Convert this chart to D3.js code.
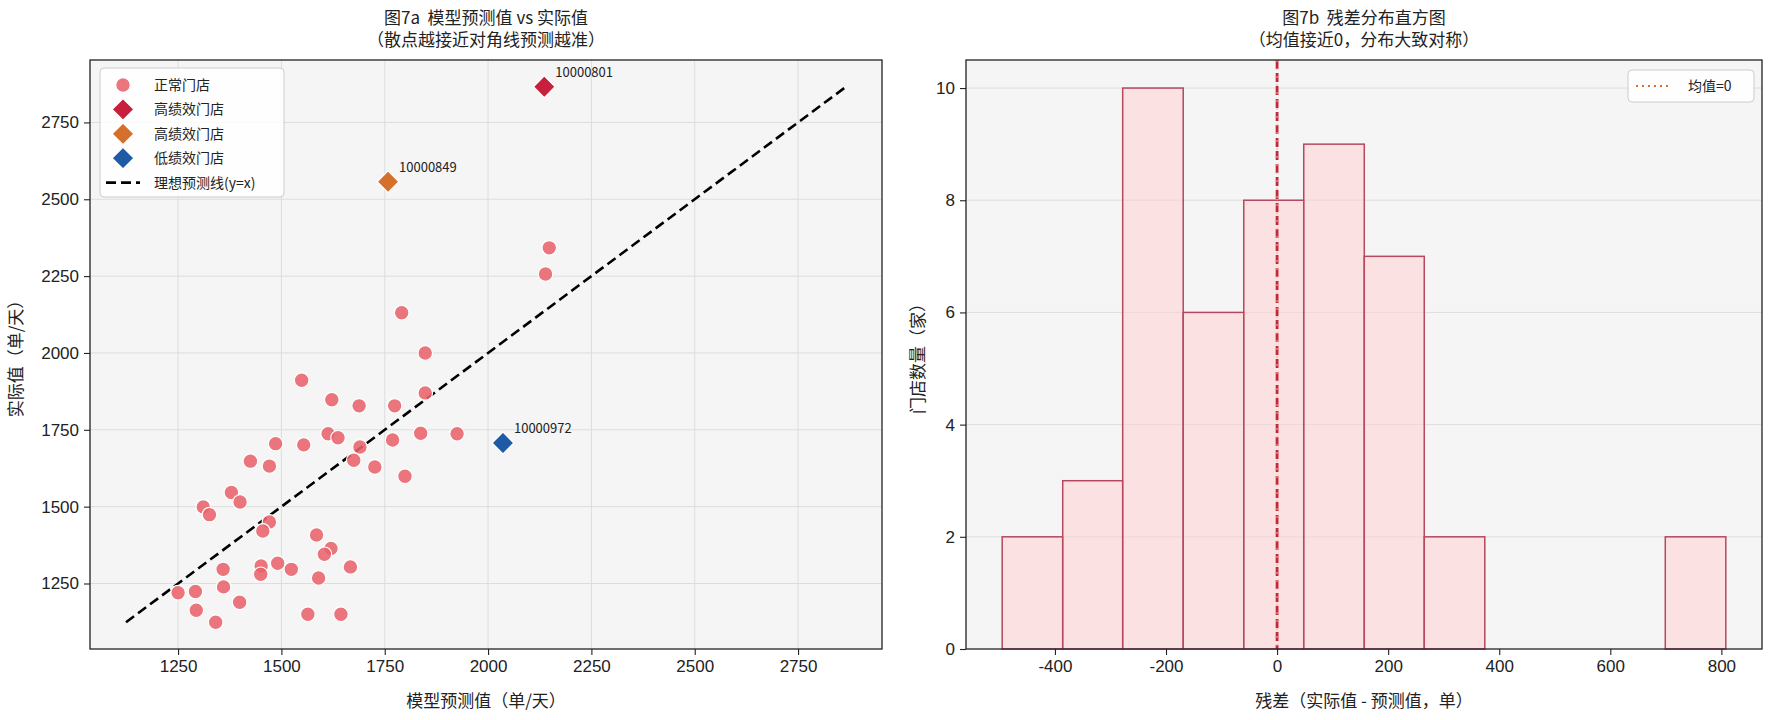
<!DOCTYPE html>
<html>
<head>
<meta charset="utf-8">
<script src="https://cdn.jsdelivr.net/npm/d3@7"></script>
<style>
  body { margin: 0; background: #fff; }
  svg { display: block; font-family: "Noto Sans CJK SC", "Noto Sans", sans-serif; }
  text { white-space: pre; }
</style>
</head>
<body>
<svg id="chart" width="1768" height="720"></svg>
<script>
// --- data ---
// fig 7a: normal stores (predicted, actual)
const normalPred = [1791, 1848, 1549, 1622, 1688, 1774, 1848, 1613, 1637, 1837, 1925, 1769,
  1690, 1675, 1726, 1799, 1486, 1554, 1425, 1471, 1379, 1400, 1311, 1326, 1471, 1455, 1585,
  1620, 1604, 1667, 1491, 1524, 1451, 1450, 1359, 1590, 1360, 1292, 1250, 1399, 1294, 1341,
  1564, 1644, 2148, 2139];
const normalActual = [2131, 2000, 1911, 1848, 1828, 1828, 1870, 1737, 1724, 1739, 1737, 1717,
  1694, 1651, 1629, 1599, 1705, 1701, 1648, 1632, 1546, 1515, 1499, 1474, 1450, 1421, 1408,
  1364, 1345, 1304, 1316, 1296, 1307, 1280, 1296, 1268, 1239, 1224, 1220, 1189, 1163, 1124,
  1150, 1150, 2342, 2257];

// highlighted stores
const specialIds = ['10000801', '10000849', '10000972'];
const specialNames = ['高绩效门店', '高绩效门店', '低绩效门店'];
const specialPred = [2136, 1758, 2036];
const specialActual = [2866, 2557, 1707];

const scatterTicks = [1250, 1500, 1750, 2000, 2250, 2500, 2750];

// fig 7b: residual histogram
const binEdges = [-495, -386, -278, -169, -60, 48, 157, 265, 374, 482, 591, 699, 808];
const binCounts = [2, 3, 10, 6, 8, 9, 7, 2, 0, 0, 0, 2];
const residualMean = 0;
const histXTicks = [-400, -200, 0, 200, 400, 600, 800];
const histYTicks = [0, 2, 4, 6, 8, 10];

// --- styles ---
const specialColors = ['#c8203c', '#d4702c', '#1f5aa6'];
const normalColor = '#e8636b';
const bg = '#f5f5f5';
const gridColor = '#dddddd';
const ink = '#222';

const svg = d3.select('#chart');

const left = { x0: 90, x1: 882, y0: 60, y1: 649 };
const right = { x0: 966, x1: 1762, y0: 60, y1: 649 };

function frame(box) {
  svg.append('rect')
    .attr('x', box.x0).attr('y', box.y0)
    .attr('width', box.x1 - box.x0).attr('height', box.y1 - box.y0)
    .attr('fill', 'none').attr('stroke', ink).attr('stroke-width', 1.3);
}

function background(box) {
  svg.append('rect')
    .attr('x', box.x0).attr('y', box.y0)
    .attr('width', box.x1 - box.x0).attr('height', box.y1 - box.y0)
    .attr('fill', bg);
}

function styleAxis(g) {
  g.select('.domain').remove();
  g.selectAll('.tick line').attr('stroke', ink).attr('stroke-width', 1.1);
  g.selectAll('.tick text').attr('fill', ink).attr('font-size', 17);
}

function title(box, l1, l2) {
  const cx = (box.x0 + box.x1) / 2;
  svg.append('text').attr('x', cx).attr('y', 24).attr('text-anchor', 'middle')
    .attr('font-size', 17).attr('fill', ink).text(l1);
  svg.append('text').attr('x', cx).attr('y', 46).attr('text-anchor', 'middle')
    .attr('font-size', 17).attr('fill', ink).text(l2);
}

// ================= fig 7a =================
const allVals = normalPred.concat(normalActual, specialPred, specialActual);
const [vMin, vMax] = d3.extent(allVals);
const pad = (vMax - vMin) * 0.05;

const x = d3.scaleLinear().domain([vMin - pad, vMax + pad]).range([left.x0, left.x1]);
const y = d3.scaleLinear().domain([vMin - pad, vMax + pad]).range([left.y1, left.y0]);

background(left);

// grid
svg.append('g').selectAll('line').data(scatterTicks).join('line')
  .attr('x1', d => x(d)).attr('x2', d => x(d))
  .attr('y1', left.y0).attr('y2', left.y1)
  .attr('stroke', gridColor).attr('stroke-width', 1);
svg.append('g').selectAll('line').data(scatterTicks).join('line')
  .attr('x1', left.x0).attr('x2', left.x1)
  .attr('y1', d => y(d)).attr('y2', d => y(d))
  .attr('stroke', gridColor).attr('stroke-width', 1);

// ideal line y = x
svg.append('line')
  .attr('x1', x(vMin)).attr('y1', y(vMin))
  .attr('x2', x(vMax)).attr('y2', y(vMax))
  .attr('stroke', '#000').attr('stroke-width', 2.6)
  .attr('stroke-dasharray', '10,5');

// normal stores
svg.append('g').selectAll('circle').data(normalPred).join('circle')
  .attr('cx', d => x(d))
  .attr('cy', (d, i) => y(normalActual[i]))
  .attr('r', 7.3)
  .attr('fill', normalColor).attr('fill-opacity', 0.88)
  .attr('stroke', '#fff').attr('stroke-width', 1.2);

// highlighted stores
const diamond = d3.symbol().type(d3.symbolDiamond2).size(300);
const sp = svg.append('g').selectAll('g').data(specialIds).join('g')
  .attr('transform', (d, i) => `translate(${x(specialPred[i])},${y(specialActual[i])})`);
sp.append('path').attr('d', diamond)
  .attr('fill', (d, i) => specialColors[i])
  .attr('stroke', '#fff').attr('stroke-width', 1.2);
sp.append('text').attr('x', 11).attr('y', -10)
  .attr('font-size', 13).attr('fill', ink).text(d => d);

frame(left);

const xAxisL = svg.append('g').attr('transform', `translate(0,${left.y1})`)
  .call(d3.axisBottom(x).tickValues(scatterTicks).tickSize(6).tickPadding(5).tickFormat(d3.format('d')));
styleAxis(xAxisL);
const yAxisL = svg.append('g').attr('transform', `translate(${left.x0},0)`)
  .call(d3.axisLeft(y).tickValues(scatterTicks).tickSize(6).tickPadding(5).tickFormat(d3.format('d')));
styleAxis(yAxisL);

svg.append('text').attr('x', (left.x0 + left.x1) / 2).attr('y', 707)
  .attr('text-anchor', 'middle').attr('font-size', 17).attr('fill', ink)
  .text('模型预测值（单/天）');
svg.append('text')
  .attr('transform', `translate(22,${(left.y0 + left.y1) / 2}) rotate(-90)`)
  .attr('text-anchor', 'middle').attr('font-size', 17).attr('fill', ink)
  .text('实际值（单/天）');

title(left, '图7a  模型预测值 vs 实际值', '（散点越接近对角线预测越准）');

// legend 7a
const lg = svg.append('g').attr('transform', `translate(${left.x0 + 10},${left.y0 + 8})`);
lg.append('rect').attr('width', 184).attr('height', 129).attr('rx', 4)
  .attr('fill', '#fff').attr('fill-opacity', 0.85)
  .attr('stroke', '#cccccc').attr('stroke-width', 1);
const rowY = i => 17 + i * 24.4;
lg.append('circle').attr('cx', 23).attr('cy', rowY(0)).attr('r', 7.3)
  .attr('fill', normalColor).attr('fill-opacity', 0.88)
  .attr('stroke', '#fff').attr('stroke-width', 1.2);
lg.append('text').attr('x', 54).attr('y', rowY(0) + 5).attr('font-size', 14).attr('fill', ink).text('正常门店');
specialNames.forEach((name, i) => {
  lg.append('path').attr('d', diamond)
    .attr('transform', `translate(23,${rowY(i + 1)})`)
    .attr('fill', specialColors[i]).attr('stroke', '#fff').attr('stroke-width', 1.2);
  lg.append('text').attr('x', 54).attr('y', rowY(i + 1) + 5).attr('font-size', 14).attr('fill', ink).text(name);
});
lg.append('line').attr('x1', 6).attr('x2', 40).attr('y1', rowY(4)).attr('y2', rowY(4))
  .attr('stroke', '#000').attr('stroke-width', 2.6).attr('stroke-dasharray', '10,5');
lg.append('text').attr('x', 54).attr('y', rowY(4) + 5).attr('font-size', 14).attr('fill', ink).text('理想预测线(y=x)');

// ================= fig 7b =================
const edgeExt = d3.extent(binEdges);
const hpad = (edgeExt[1] - edgeExt[0]) * 0.05;
const hx = d3.scaleLinear().domain([edgeExt[0] - hpad, edgeExt[1] + hpad]).range([right.x0, right.x1]);
const hy = d3.scaleLinear().domain([0, d3.max(binCounts) * 1.05]).range([right.y1, right.y0]);

background(right);

svg.append('g').selectAll('line').data(histYTicks.filter(d => d > 0)).join('line')
  .attr('x1', right.x0).attr('x2', right.x1)
  .attr('y1', d => hy(d)).attr('y2', d => hy(d))
  .attr('stroke', gridColor).attr('stroke-width', 1);

const bins = binCounts.map((c, i) => ({ x0: binEdges[i], x1: binEdges[i + 1], n: c }))
  .filter(b => b.n > 0);
svg.append('g').selectAll('rect').data(bins).join('rect')
  .attr('x', d => hx(d.x0))
  .attr('y', d => hy(d.n))
  .attr('width', d => hx(d.x1) - hx(d.x0))
  .attr('height', d => hy(0) - hy(d.n))
  .attr('fill', '#ffd0d0').attr('fill-opacity', 0.55)
  .attr('stroke', '#b5485f').attr('stroke-width', 1.5);

// zero line (red dashed) and mean line (orange dotted)
svg.append('line')
  .attr('x1', hx(0)).attr('x2', hx(0)).attr('y1', right.y0).attr('y2', right.y1)
  .attr('stroke', '#c0283c').attr('stroke-width', 2.8).attr('stroke-dasharray', '9,4');
svg.append('line')
  .attr('x1', hx(residualMean)).attr('x2', hx(residualMean)).attr('y1', right.y0).attr('y2', right.y1)
  .attr('stroke', '#f0b070').attr('stroke-width', 1.4).attr('stroke-dasharray', '2,6')
  .attr('stroke-opacity', 0.8);

frame(right);

const xAxisR = svg.append('g').attr('transform', `translate(0,${right.y1})`)
  .call(d3.axisBottom(hx).tickValues(histXTicks).tickSize(6).tickPadding(5).tickFormat(d => d3.format('d')(d).replace('−', '-')));
styleAxis(xAxisR);
const yAxisR = svg.append('g').attr('transform', `translate(${right.x0},0)`)
  .call(d3.axisLeft(hy).tickValues(histYTicks).tickSize(6).tickPadding(5).tickFormat(d3.format('d')));
styleAxis(yAxisR);

svg.append('text').attr('x', (right.x0 + right.x1) / 2).attr('y', 707)
  .attr('text-anchor', 'middle').attr('font-size', 17).attr('fill', ink)
  .text('残差（实际值 - 预测值，单）');
svg.append('text')
  .attr('transform', `translate(924,${(right.y0 + right.y1) / 2}) rotate(-90)`)
  .attr('text-anchor', 'middle').attr('font-size', 17).attr('fill', ink)
  .text('门店数量（家）');

title(right, '图7b  残差分布直方图', '（均值接近0，分布大致对称）');

// legend 7b
const lg2 = svg.append('g').attr('transform', `translate(${right.x1 - 134},${right.y0 + 10})`);
lg2.append('rect').attr('width', 126).attr('height', 32).attr('rx', 4)
  .attr('fill', '#fff').attr('fill-opacity', 0.85)
  .attr('stroke', '#cccccc').attr('stroke-width', 1);
lg2.append('line').attr('x1', 8).attr('x2', 44).attr('y1', 16).attr('y2', 16)
  .attr('stroke', '#d4702c').attr('stroke-width', 2).attr('stroke-dasharray', '2,4');
lg2.append('text').attr('x', 60).attr('y', 21).attr('font-size', 14).attr('fill', ink).text('均值=0');
</script>
</body>
</html>
